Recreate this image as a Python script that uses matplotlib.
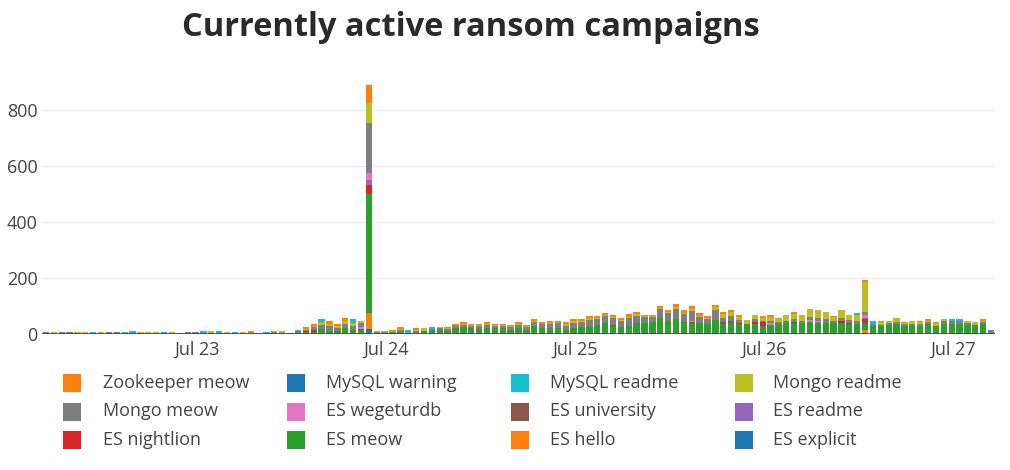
import numpy as np
import pandas as pd
import matplotlib
matplotlib.use('Agg')
from matplotlib import pyplot as plt
from matplotlib.patches import Rectangle
import matplotlib.dates as mdates

plt.rcParams['font.family'] = ['Open Sans', 'DejaVu Sans']

# hourly buckets, Jul 22 04:50 .. Jul 27 04:50
hours = pd.date_range('2019-07-22 04:50', periods=121, freq='h')

es_explicit = [
  0, 0, 0, 0, 0, 0, 0, 0, 0, 0, 0, 0, 0, 0, 0, 0, 0, 0, 0, 0,
  0, 0, 0, 0, 0, 0, 0, 0, 0, 0, 0, 0, 3, 0, 0, 0, 0, 0, 0, 0,
  0, 18, 0, 0, 0, 0, 0, 0, 0, 0, 0, 0, 0, 0, 0, 0, 0, 0, 0, 0,
  0, 0, 0, 0, 0, 0, 0, 0, 0, 0, 0, 0, 0, 0, 0, 0, 0, 0, 0, 0,
  0, 0, 0, 0, 0, 0, 0, 0, 0, 0, 0, 0, 0, 0, 0, 0, 0, 0, 0, 0,
  0, 0, 0, 0, 0, 0, 0, 0, 0, 0, 0, 0, 0, 0, 0, 0, 0, 0, 0, 0,
  0]
es_hello = [
  0, 0, 0, 0, 0, 0, 0, 0, 0, 0, 0, 0, 0, 0, 0, 0, 0, 0, 0, 0,
  0, 0, 0, 0, 0, 0, 3, 0, 0, 0, 0, 0, 0, 0, 0, 3, 0, 0, 4, 0,
  0, 57, 0, 0, 0, 0, 0, 0, 0, 0, 0, 0, 0, 0, 0, 0, 0, 0, 0, 0,
  0, 0, 0, 0, 0, 0, 2, 0, 0, 0, 0, 0, 0, 0, 0, 0, 0, 0, 0, 0,
  3, 0, 0, 0, 0, 0, 0, 0, 0, 0, 0, 0, 0, 0, 0, 0, 0, 4, 0, 0,
  0, 4, 0, 0, 14, 0, 0, 0, 0, 0, 0, 0, 0, 0, 0, 0, 0, 0, 0, 0,
  0]
es_meow = [
  0, 0, 0, 0, 0, 0, 0, 0, 0, 0, 0, 0, 0, 0, 0, 0, 0, 0, 0, 0,
  0, 0, 0, 0, 0, 0, 0, 0, 0, 0, 0, 0, 0, 6, 8, 15, 12, 10, 16, 14,
  14, 425, 4, 5, 6, 8, 0, 0, 12, 14, 14, 12, 20, 24, 20, 18, 22, 20, 20, 16,
  20, 16, 28, 22, 22, 20, 14, 22, 24, 30, 32, 40, 28, 26, 28, 40, 40, 42, 56, 46,
  50, 38, 40, 38, 34, 50, 34, 40, 34, 36, 36, 30, 32, 36, 40, 40, 38, 40, 38, 40,
  40, 36, 36, 36, 25, 30, 32, 32, 34, 30, 32, 30, 36, 30, 36, 36, 36, 32, 32, 34,
  0]
es_nightlion = [
  0, 0, 0, 0, 0, 0, 0, 0, 0, 0, 0, 0, 0, 0, 0, 0, 0, 0, 0, 0,
  0, 0, 0, 0, 0, 0, 0, 0, 0, 0, 0, 2, 0, 4, 3, 0, 0, 0, 0, 0,
  0, 33, 0, 0, 0, 0, 0, 0, 0, 0, 0, 0, 0, 0, 0, 0, 0, 0, 0, 0,
  0, 0, 0, 0, 0, 0, 0, 0, 0, 0, 0, 0, 3, 0, 0, 0, 0, 0, 0, 0,
  0, 0, 4, 0, 0, 0, 0, 0, 4, 0, 8, 12, 0, 0, 0, 4, 0, 0, 0, 0,
  0, 6, 4, 0, 14, 0, 0, 0, 0, 0, 0, 0, 0, 0, 0, 0, 0, 0, 0, 0,
  0]
es_readme = [
  0, 0, 0, 0, 0, 0, 0, 0, 0, 0, 0, 0, 0, 0, 0, 0, 0, 0, 0, 0,
  0, 0, 0, 0, 0, 0, 0, 0, 0, 0, 0, 3, 0, 0, 0, 0, 0, 0, 0, 0,
  0, 18, 0, 0, 0, 0, 0, 0, 0, 0, 0, 0, 0, 0, 0, 0, 0, 0, 0, 0,
  0, 0, 0, 0, 0, 0, 0, 0, 0, 0, 0, 0, 0, 0, 0, 0, 0, 0, 0, 0,
  0, 0, 0, 0, 0, 0, 0, 0, 0, 0, 0, 0, 0, 0, 0, 0, 0, 0, 4, 0,
  0, 0, 0, 0, 4, 0, 0, 0, 0, 0, 0, 0, 0, 0, 0, 0, 0, 0, 0, 0,
  0]
es_university = [
  0, 0, 0, 0, 0, 0, 0, 0, 0, 0, 0, 0, 0, 0, 0, 0, 0, 0, 0, 0,
  0, 0, 0, 0, 0, 0, 0, 0, 0, 0, 0, 0, 0, 0, 5, 0, 0, 0, 0, 0,
  4, 0, 0, 0, 0, 0, 0, 0, 0, 0, 0, 0, 0, 0, 0, 0, 0, 0, 0, 0,
  0, 0, 0, 0, 0, 0, 0, 0, 0, 0, 0, 0, 0, 0, 0, 0, 0, 0, 0, 0,
  0, 4, 0, 0, 0, 0, 10, 6, 0, 0, 0, 0, 0, 0, 0, 0, 0, 0, 0, 0,
  0, 0, 0, 0, 0, 0, 0, 0, 0, 0, 0, 0, 0, 0, 0, 0, 0, 0, 0, 0,
  0]
es_wegeturdb = [
  0, 0, 0, 0, 0, 0, 0, 0, 0, 0, 0, 0, 0, 0, 0, 0, 0, 0, 0, 0,
  0, 0, 0, 0, 0, 0, 0, 0, 0, 0, 0, 0, 0, 0, 0, 0, 0, 0, 0, 0,
  8, 24, 0, 0, 0, 0, 0, 0, 0, 0, 0, 0, 0, 0, 0, 0, 0, 0, 0, 0,
  0, 0, 0, 0, 0, 0, 0, 0, 0, 0, 0, 0, 0, 0, 0, 0, 0, 0, 0, 0,
  0, 0, 3, 0, 0, 0, 0, 0, 0, 0, 0, 0, 6, 0, 0, 0, 0, 6, 6, 0,
  0, 0, 0, 0, 10, 0, 0, 0, 0, 0, 0, 0, 0, 0, 0, 0, 0, 0, 0, 0,
  0]
mongo_meow = [
  6, 0, 6, 6, 0, 0, 0, 0, 6, 6, 0, 5, 0, 0, 0, 0, 0, 5, 6, 6,
  3, 3, 3, 0, 0, 0, 0, 5, 0, 6, 4, 0, 8, 5, 8, 14, 15, 12, 16, 16,
  14, 179, 4, 3, 0, 8, 0, 10, 0, 4, 6, 6, 8, 9, 8, 9, 10, 8, 8, 8,
  12, 8, 14, 12, 14, 14, 14, 18, 18, 20, 20, 24, 26, 20, 28, 26, 20, 18, 34, 28,
  38, 30, 36, 24, 18, 36, 14, 18, 12, 0, 10, 6, 10, 6, 8, 10, 10, 10, 10, 12,
  8, 12, 10, 10, 11, 6, 0, 8, 10, 6, 4, 6, 6, 0, 10, 10, 10, 6, 0, 8,
  14]
mongo_readme = [
  0, 6, 0, 0, 6, 6, 0, 6, 0, 0, 0, 0, 6, 6, 6, 0, 6, 0, 0, 0,
  0, 7, 0, 6, 0, 6, 0, 0, 0, 3, 8, 0, 0, 3, 5, 10, 8, 8, 12, 10,
  8, 71, 3, 3, 4, 3, 0, 3, 9, 0, 6, 2, 2, 3, 3, 4, 4, 3, 3, 3,
  4, 3, 5, 3, 4, 3, 6, 5, 4, 6, 4, 4, 4, 3, 5, 4, 3, 3, 4, 4,
  6, 4, 6, 4, 4, 10, 14, 14, 12, 14, 14, 10, 14, 12, 20, 16, 20, 29, 28, 26,
  12, 28, 18, 22, 107, 0, 10, 6, 14, 4, 10, 6, 6, 10, 8, 0, 0, 8, 11, 6,
  0]
mysql_readme = [
  0, 0, 0, 0, 0, 0, 6, 0, 0, 0, 6, 4, 0, 0, 0, 6, 0, 0, 0, 0,
  9, 0, 9, 0, 6, 0, 0, 0, 6, 0, 0, 0, 3, 0, 0, 12, 0, 0, 0, 14,
  0, 0, 0, 0, 0, 0, 14, 0, 0, 8, 0, 0, 0, 0, 0, 0, 0, 0, 0, 0,
  0, 0, 0, 0, 0, 4, 0, 0, 0, 0, 0, 0, 0, 0, 0, 0, 0, 0, 0, 0,
  0, 0, 0, 0, 0, 0, 0, 0, 0, 0, 0, 0, 0, 0, 0, 0, 0, 0, 0, 0,
  0, 0, 0, 6, 0, 10, 0, 0, 0, 0, 0, 0, 0, 0, 0, 8, 8, 0, 0, 0,
  0]
mysql_warning = [
  0, 0, 0, 0, 0, 0, 0, 0, 0, 0, 0, 2, 0, 0, 0, 0, 0, 0, 0, 0,
  0, 0, 0, 0, 0, 0, 0, 0, 0, 0, 0, 0, 0, 0, 0, 0, 0, 0, 0, 0,
  0, 0, 0, 0, 0, 0, 0, 0, 0, 0, 0, 0, 0, 0, 0, 0, 0, 0, 0, 0,
  0, 0, 0, 0, 0, 0, 0, 0, 0, 0, 0, 0, 0, 0, 0, 0, 0, 0, 0, 0,
  0, 0, 0, 0, 0, 0, 0, 0, 0, 0, 0, 0, 0, 0, 0, 0, 0, 0, 0, 0,
  0, 0, 0, 0, 0, 0, 0, 0, 0, 0, 0, 0, 0, 0, 0, 0, 0, 0, 0, 0,
  0]
zookeeper_meow = [
  0, 0, 0, 0, 0, 0, 0, 0, 0, 0, 0, 0, 0, 0, 0, 0, 0, 0, 0, 0,
  0, 0, 0, 0, 0, 0, 9, 0, 0, 0, 0, 0, 0, 6, 7, 0, 13, 6, 8, 0,
  0, 65, 0, 0, 4, 7, 0, 8, 0, 0, 0, 6, 6, 7, 5, 5, 7, 5, 5, 6,
  7, 5, 7, 6, 6, 5, 6, 9, 8, 8, 8, 8, 7, 8, 10, 9, 5, 5, 7, 8,
  10, 10, 11, 10, 8, 9, 8, 8, 6, 0, 0, 6, 6, 4, 0, 8, 0, 0, 0, 0,
  4, 0, 0, 0, 7, 0, 4, 0, 0, 3, 0, 4, 6, 3, 0, 0, 0, 0, 0, 6,
  0]

# stacking order, bottom first (plotly default colour cycle)
series = [
  ('ES explicit', es_explicit, '#1f77b4'),
  ('ES hello', es_hello, '#ff7f0e'),
  ('ES meow', es_meow, '#2ca02c'),
  ('ES nightlion', es_nightlion, '#d62728'),
  ('ES readme', es_readme, '#9467bd'),
  ('ES university', es_university, '#8c564b'),
  ('ES wegeturdb', es_wegeturdb, '#e377c2'),
  ('Mongo meow', mongo_meow, '#7f7f7f'),
  ('Mongo readme', mongo_readme, '#bcbd22'),
  ('MySQL readme', mysql_readme, '#17becf'),
  ('MySQL warning', mysql_warning, '#1f77b4'),
  ('Zookeeper meow', zookeeper_meow, '#ff7f0e'),
]

W, H = 1010, 470
fig = plt.figure(figsize=(W / 100, H / 100), dpi=100)
ax = fig.add_axes([42 / W, 1 - 334 / H, (995 - 42) / W, (334 - 72) / H])

bottom = np.zeros(len(hours))
bar_width = 0.8 / 24
for name, vals, color in series:
  vals = np.array(vals, dtype=float)
  ax.bar(hours, vals, width=bar_width, bottom=bottom, color=color,
         linewidth=0, label=name, zorder=2)
  bottom += vals

half = pd.Timedelta(minutes=30)
ax.set_xlim(mdates.date2num(hours[0] - half), mdates.date2num(hours[-1] + half))
ax.set_ylim(0, 937)
ax.set_yticks([0, 200, 400, 600, 800])
ax.xaxis.set_major_locator(mdates.DayLocator())
ax.xaxis.set_major_formatter(mdates.DateFormatter('%b %d'))
ax.tick_params(axis='both', length=0, labelsize=13, labelcolor='#444444')
ax.tick_params(axis='x', pad=5)
ax.tick_params(axis='y', pad=3)
ax.grid(True, axis='y', color='#eeeeee', linewidth=1, zorder=0)
ax.set_axisbelow(True)
for s in ax.spines.values():
  s.set_visible(False)
ax.axhline(0, color='#444444', linewidth=1.2, zorder=3)

fig.text(471 / W, 1 - 28 / H, 'Currently active ransom campaigns',
         ha='center', va='center', fontsize=23.5, fontweight='bold', color='#2a2a2a')

# legend, row-major in 4 columns (reverse of stacking order)
legend_items = series[::-1]
for k, (name, vals, color) in enumerate(legend_items):
  r, c = divmod(k, 4)
  x0 = 63 + 224 * c
  yc = 383 + 28.5 * r
  fig.patches.append(Rectangle((x0 / W, 1 - (yc + 9) / H), 18 / W, 18 / H,
                               transform=fig.transFigure, facecolor=color,
                               edgecolor='none', figure=fig))
  fig.text((103 + 223.3 * c) / W, 1 - yc / H, name, ha='left', va='center',
           fontsize=13, color='#444444')

fig.savefig('out.png', dpi=100)
